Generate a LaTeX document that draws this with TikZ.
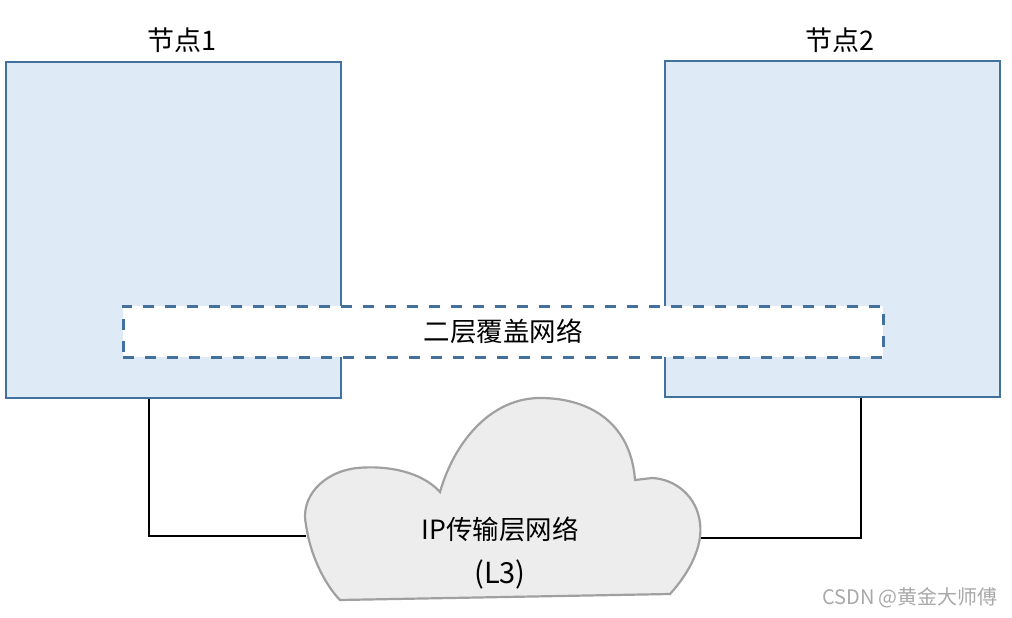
\documentclass[tikz,border=0pt]{standalone}
\usepackage{fontspec}
\setmainfont{Noto Sans CJK SC}
\usetikzlibrary{calc}
\definecolor{boxfill}{HTML}{DEEAF6}
\definecolor{boxline}{HTML}{41719C}
\definecolor{cloudfill}{HTML}{EDEDED}
\definecolor{cloudline}{HTML}{A0A0A0}
\definecolor{wm}{HTML}{A8A8A8}
\tikzset{
  nodebox/.style={draw=boxline, fill=boxfill, line width=2.2pt, minimum width=335pt, minimum height=336pt, inner sep=0pt},
  overlaybox/.style={draw=boxline, fill=white, line width=3pt, dash pattern=on 11pt off 11pt, minimum width=760pt, minimum height=51pt, inner sep=0pt, font=\fontsize{26.5}{30}\selectfont},
  lbl/.style={font=\fontsize{27}{30}\selectfont, inner sep=0pt},
  link/.style={line width=2.5pt, draw=black},
  cloudtxt/.style={font=\fontsize{26.5}{30}\selectfont, inner sep=0pt}
}
\begin{document}
\begin{tikzpicture}[x=1pt,y=-1pt]
\useasboundingbox (0,0) rectangle (1012,618);
\node[nodebox] (box1) at (173.5,230) {};
\node[nodebox] (box2) at (832.5,229) {};
\node[lbl] (t1) at (182,40) {节点1};
\node[lbl] (t2) at (840,40) {节点2};
\node[overlaybox] (overlay) at (503,331.5) {二层覆盖网络};
\coordinate (cloudL) at (306,536);
\coordinate (cloudR) at (700,538);
\draw[link] ($(box1.south west)+(144,0)$) |- (cloudL);
\draw[link] ($(box2.south west)+(197,0)$) |- (cloudR);
\draw[draw=cloudline, fill=cloudfill, line width=2.2pt]
  (340,600) -- (670,594)
  .. controls (690,572) and (703,546) .. (700,523)
  .. controls (697,497) and (676,479) .. (652,478)
  -- (635,480)
  .. controls (631,425) and (592,398) .. (540,398)
  .. controls (492,398) and (455,440) .. (440,492)
  .. controls (422,472) and (388,465) .. (357,468)
  .. controls (322,472) and (300,498) .. (306,525)
  .. controls (311,560) and (328,588) .. (340,600) -- cycle;
\node[cloudtxt] (c1) at (500,529) {IP传输层网络};
\node[font=\fontsize{29}{32}\selectfont, inner sep=0pt] (c2) at (500,574) {(L3)};
\node[font=\fontsize{20}{22}\selectfont, text=wm, inner sep=0pt] (wmk) at (910,598) {CSDN @黄金大师傅};
\end{tikzpicture}
\end{document}
